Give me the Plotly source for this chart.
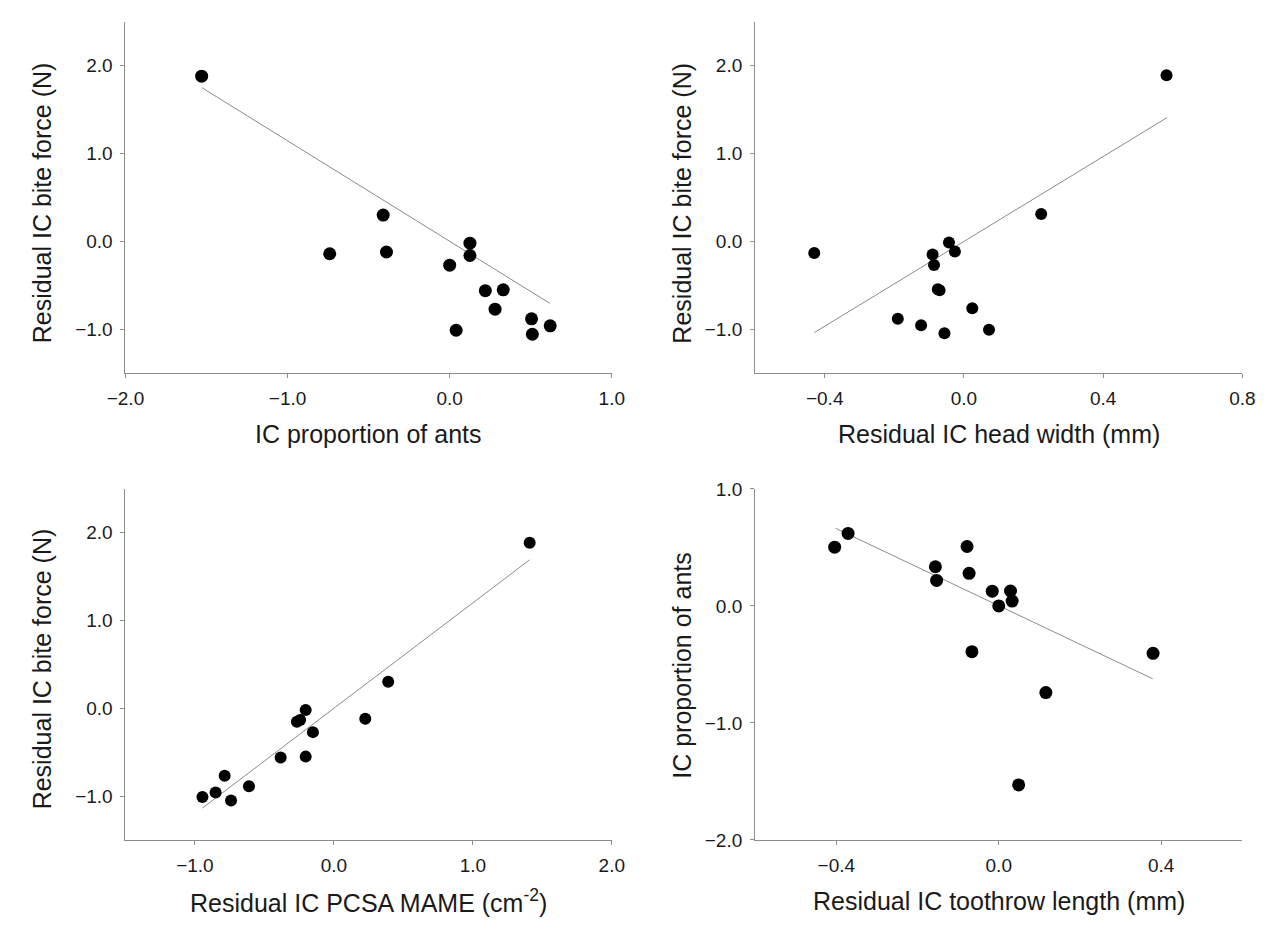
import plotly.graph_objects as go

# ---------------- data ----------------
# Panel A: bite force vs IC proportion of ants
ants_prop = [-1.53, -0.74, -0.41, -0.39, 0.00, 0.04, 0.125, 0.125, 0.22, 0.28, 0.33, 0.505, 0.51, 0.62]
bite_a = [1.88, -0.14, 0.30, -0.12, -0.27, -1.01, -0.02, -0.16, -0.56, -0.77, -0.55, -0.88, -1.055, -0.96]
fit_a_x = [-1.528, 0.618]
fit_a_y = [1.748, -0.704]

# Panel B: bite force vs residual head width
head_width = [-0.43, -0.09, -0.086, -0.043, -0.026, -0.075, -0.07, -0.19, -0.123, -0.056, 0.024, 0.072, 0.222, 0.582]
bite_b = [-0.13, -0.148, -0.267, -0.011, -0.115, -0.544, -0.556, -0.878, -0.952, -1.044, -0.759, -1.004, 0.311, 1.889]
fit_b_x = [-0.430, 0.583]
fit_b_y = [-1.037, 1.407]

# Panel C: bite force vs residual PCSA MAME
pcsa = [-0.946, -0.851, -0.786, -0.740, -0.611, -0.383, -0.203, -0.266, -0.243, -0.203, -0.151, 0.226, 0.391, 1.409]
bite_c = [-1.010, -0.958, -0.769, -1.051, -0.887, -0.561, -0.550, -0.152, -0.134, -0.019, -0.271, -0.119, 0.304, 1.886]
fit_c_x = [-0.946, 1.409]
fit_c_y = [-1.136, 1.693]

# Panel D: IC proportion of ants vs residual toothrow length
toothrow = [-0.404, -0.371, -0.078, -0.156, -0.153, -0.073, -0.016, 0.029, 0.033, 0.0, -0.066, 0.380, 0.116, 0.049]
ants_d = [0.502, 0.620, 0.508, 0.335, 0.218, 0.279, 0.126, 0.128, 0.042, 0.0, -0.391, -0.405, -0.740, -1.529]
fit_d_x = [-0.402, 0.379]
fit_d_y = [0.664, -0.622]

# tick values / labels
xa_ticks = [-2.0, -1.0, 0.0, 1.0]
xa_labels = ["\u22122.0", "\u22121.0", "0.0", "1.0"]
xb_ticks = [-0.4, 0.0, 0.4, 0.8]
xb_labels = ["\u22120.4", "0.0", "0.4", "0.8"]
xc_ticks = [-1.0, 0.0, 1.0, 2.0]
xc_labels = ["\u22121.0", "0.0", "1.0", "2.0"]
xd_ticks = [-0.4, 0.0, 0.4]
xd_labels = ["\u22120.4", "0.0", "0.4"]
ybite_ticks = [-1.0, 0.0, 1.0, 2.0]
ybite_labels = ["\u22121.0", "0.0", "1.0", "2.0"]
yd_ticks = [-2.0, -1.0, 0.0, 1.0]
yd_labels = ["\u22122.0", "\u22121.0", "0.0", "1.0"]

x_titles = ["IC proportion of ants", "Residual IC head width (mm)",
            "Residual IC PCSA MAME (cm<sup>-2</sup>)", "Residual IC toothrow length (mm)"]
y_titles = ["Residual IC bite force (N)", "Residual IC bite force (N)",
            "Residual IC bite force (N)", "IC proportion of ants"]

# ---------------- figure ----------------
PAGE_OFF = 8                      # default body margin of the html page
W, H = 1279 - 2 * PAGE_OFF, 931 - 2 * PAGE_OFF
FONT = "Liberation Sans, Arial, sans-serif"
AXC = "#8c8c8c"
TXT = "#1a1a1a"


def px_x(p):
    return (p - PAGE_OFF) / W


def px_y(p):
    return 1 - (p - PAGE_OFF) / H


fig = go.Figure()

panels = [
    (ants_prop, bite_a, fit_a_x, fit_a_y, 13),
    (head_width, bite_b, fit_b_x, fit_b_y, 12),
    (pcsa, bite_c, fit_c_x, fit_c_y, 12),
    (toothrow, ants_d, fit_d_x, fit_d_y, 13),
]
for i, (px, py, fx, fy, ms) in enumerate(panels):
    xr = "x" if i == 0 else f"x{i+1}"
    yr = "y" if i == 0 else f"y{i+1}"
    fig.add_trace(go.Scatter(x=fx, y=fy, mode="lines", xaxis=xr, yaxis=yr,
                             line=dict(color="#8a8a8a", width=1), showlegend=False, hoverinfo="skip"))
    fig.add_trace(go.Scatter(x=px, y=py, mode="markers", xaxis=xr, yaxis=yr,
                             marker=dict(color="black", size=ms, line=dict(width=0)),
                             showlegend=False))

# page-pixel boxes: (left, right, top, bottom)
boxes = [(109, 608, 11.7, 371.7), (755, 1255, 11.7, 371.7),
         (109, 608, 490, 849.3), (755, 1255, 490, 849.3)]
xranges = [[-2.0, 1.0], [-0.6, 0.8], [-1.5, 2.0], [-0.6, 0.6]]
yranges = [[-1.5, 2.5], [-1.5, 2.5], [-1.5, 2.5], [-2.0, 1.0]]
xticks = [(xa_ticks, xa_labels), (xb_ticks, xb_labels), (xc_ticks, xc_labels), (xd_ticks, xd_labels)]
yticks = [(ybite_ticks, ybite_labels)] * 3 + [(yd_ticks, yd_labels)]

common = dict(showline=True, linecolor=AXC, linewidth=1, showgrid=False, zeroline=False,
              ticks="outside", ticklen=4, tickcolor=AXC, tickwidth=1,
              tickfont=dict(family=FONT, size=19, color=TXT), tickmode="array",
              fixedrange=True)

layout = {}
for i, (l, r, t, b) in enumerate(boxes):
    xk = "xaxis" if i == 0 else f"xaxis{i+1}"
    yk = "yaxis" if i == 0 else f"yaxis{i+1}"
    xa = "x" if i == 0 else f"x{i+1}"
    ya = "y" if i == 0 else f"y{i+1}"
    layout[xk] = dict(domain=[px_x(l), px_x(r)], range=xranges[i], anchor=ya,
                      tickvals=xticks[i][0], ticktext=xticks[i][1], ticklabelstandoff=4, **common)
    layout[yk] = dict(domain=[px_y(b), px_y(t)], range=yranges[i], anchor=xa,
                      tickvals=yticks[i][0], ticktext=yticks[i][1], ticklabelstandoff=4, **common)

fig.update_layout(**layout)

annotations = []
xt_pos = [(358.5, 434), (1005, 434), (358.5, 912), (1005, 912)]
yt_pos = [(23, 197), (680, 197), (23, 674), (680, 670)]
for i in range(4):
    xp, yp = xt_pos[i]
    annotations.append(dict(text=x_titles[i], x=px_x(xp), y=px_y(yp), xref="paper", yref="paper",
                            xanchor="center", yanchor="middle", showarrow=False,
                            font=dict(family=FONT, size=25, color=TXT)))
    xp, yp = yt_pos[i]
    annotations.append(dict(text=y_titles[i], x=px_x(xp), y=px_y(yp), xref="paper", yref="paper",
                            xanchor="center", yanchor="middle", showarrow=False, textangle=-90,
                            font=dict(family=FONT, size=25, color=TXT)))

fig.update_layout(width=W, height=H, margin=dict(l=0, r=0, t=0, b=0),
                  paper_bgcolor="white", plot_bgcolor="white",
                  annotations=annotations, showlegend=False)

fig.write_html("out.html", config={"displayModeBar": False})
